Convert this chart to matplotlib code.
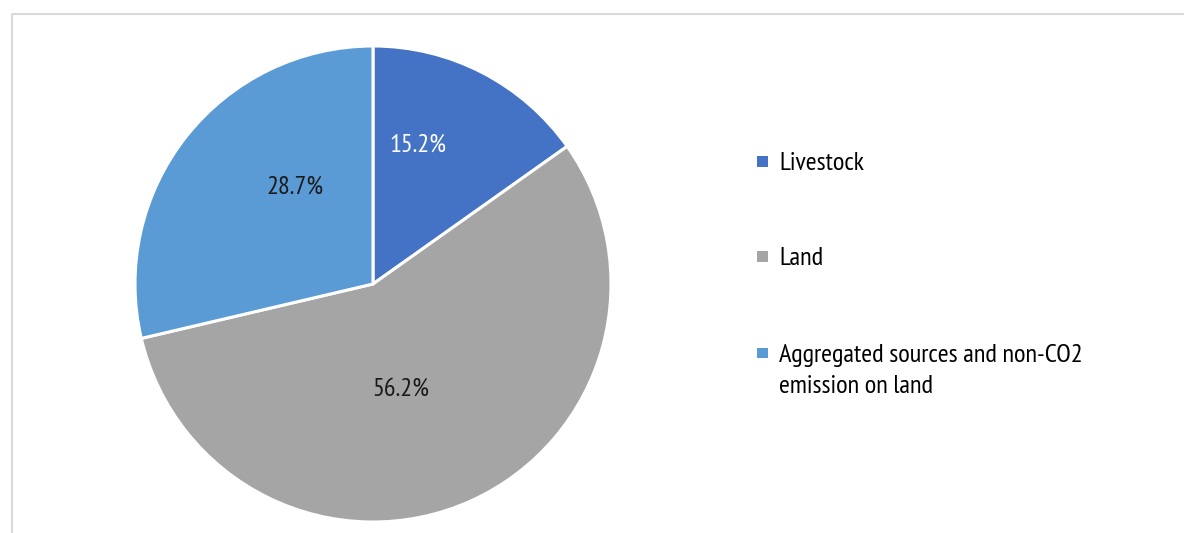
import matplotlib
matplotlib.use("Agg")
import matplotlib.pyplot as plt
from matplotlib.patches import Rectangle
from matplotlib.lines import Line2D

categories = ["Livestock", "Land", "Aggregated sources and non-CO2\nemission on land"]
values = [15.2, 56.2, 28.7]
labels = ["15.2%", "56.2%", "28.7%"]
colors = ["#4472C4", "#A5A5A5", "#5B9BD5"]
label_colors = ["white", "#1a1a1a", "#1a1a1a"]
# label baseline positions (fractions of radius), Excel "best fit"
label_pos = [(0.187, 0.556), (0.118, -0.4706), (-0.329, 0.378)]

plt.rcParams['font.family'] = ['PT Sans Narrow', 'DejaVu Sans']

W, H = 1184, 533
fig = plt.figure(figsize=(W / 100, H / 100), dpi=100)

cx, cy, r = 373, 284, 238
ax = fig.add_axes([(cx - r) / W, (H - cy - r) / H, 2 * r / W, 2 * r / H])
wedges, _ = ax.pie(values, colors=colors, startangle=90, counterclock=False,
                   radius=1, wedgeprops=dict(edgecolor="white", linewidth=2.2))
ax.set_xlim(-1, 1)
ax.set_ylim(-1, 1)
ax.set_aspect("equal")
ax.axis("off")
for lab, pos, c in zip(labels, label_pos, label_colors):
    ax.text(pos[0], pos[1], lab, ha="center", va="baseline", fontsize=19, color=c)

# frame (left and top edges visible)
fig.add_artist(Line2D([11.5 / W, 11.5 / W, 1.0], [0, (H - 14) / H, (H - 14) / H],
                      transform=fig.transFigure, color="#D9D9D9", linewidth=1.5))

# legend
leg_base = [170, 265, 361.7]
for cat, col, y in zip(categories, colors, leg_base):
    fig.add_artist(Rectangle((757 / W, (H - y + 3.5) / H), 11 / W, 10.5 / H,
                             transform=fig.transFigure, facecolor=col, edgecolor="none"))
    fig.text(779 / W, (H - y) / H, cat.split("\n")[0], ha="left", va="baseline",
             fontsize=19, color="black", transform=fig.transFigure)
    for k, extra in enumerate(cat.split("\n")[1:], start=1):
        fig.text(779 / W, (H - y - 31.7 * k) / H, extra, ha="left", va="baseline",
                 fontsize=19, color="black", transform=fig.transFigure)

fig.savefig("out.png", dpi=100)
